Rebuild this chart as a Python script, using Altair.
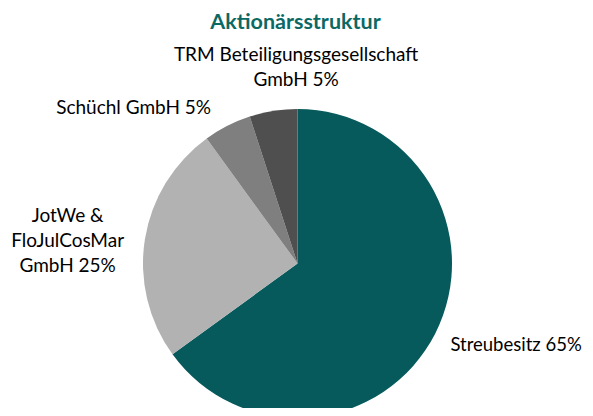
import altair as alt
import pandas as pd

title_text = "Aktionärsstruktur"
categories = ["Streubesitz", "JotWe & FloJulCosMar GmbH", "Schüchl GmbH", "TRM Beteiligungsgesellschaft GmbH"]
shares = [65, 25, 5, 5]
ranks = [1, 2, 3, 4]
labels = ["Streubesitz 65%", "JotWe &\nFloJulCosMar\nGmbH 25%", "Schüchl GmbH 5%", "TRM Beteiligungsgesellschaft\nGmbH 5%"]
colors = ["#065a5c", "#b2b2b2", "#7f7f7f", "#4f4f4f"]

df = pd.DataFrame({"category": categories, "share": shares, "rank": ranks, "label": labels})

CX, CY = 289.5, 255.5
FONT = "Lato"

base = alt.Chart(df).transform_window(
    cum="sum(share)", sort=[alt.SortField("rank")], frame=[None, 0]
).transform_calculate(mid="datum.cum - datum.share / 2")

arc = base.mark_arc(outerRadius=154.5, stroke=None).encode(
    theta=alt.Theta("share:Q", stack=True, scale=alt.Scale(domain=[0, 100])),
    order=alt.Order("rank:Q"),
    color=alt.Color("category:N", scale=alt.Scale(domain=categories, range=colors), legend=None),
    x=alt.value(CX),
    y=alt.value(CY),
)

def label_layer(cat, align, dx, dy, size=19):
    return base.transform_filter(alt.datum.category == cat).mark_text(
        radius=175, align=align, baseline="middle", dx=dx, dy=dy,
        font=FONT, fontSize=size, color="#000000", lineBreak="\n", lineHeight=25,
    ).encode(
        theta=alt.Theta("mid:Q", stack=False, scale=alt.Scale(domain=[0, 100])),
        text="label:N",
        x=alt.value(CX),
        y=alt.value(CY),
    )

title = alt.Chart(pd.DataFrame({"t": [title_text]})).mark_text(
    font=FONT, fontSize=21.5, fontWeight="bold", color="#0b6965",
    align="center", baseline="alphabetic",
).encode(text="t:N", x=alt.value(287.5), y=alt.value(20.5))

layers = [
    arc,
    label_layer(categories[0], "left", -3, 2, 18.5),
    label_layer(categories[1], "center", -57, -20.5),
    label_layer(categories[2], "right", -7, 0),
    label_layer(categories[3], "center", 26, -35.5),
    title,
]

chart = alt.layer(*layers).resolve_scale(theta="independent").properties(
    width=577,
    height=400,
    padding=0,
    autosize=alt.AutoSizeParams(type="none"),
).configure_view(stroke=None)

chart.save("out.html", embed_options={"renderer": "svg", "actions": False})
